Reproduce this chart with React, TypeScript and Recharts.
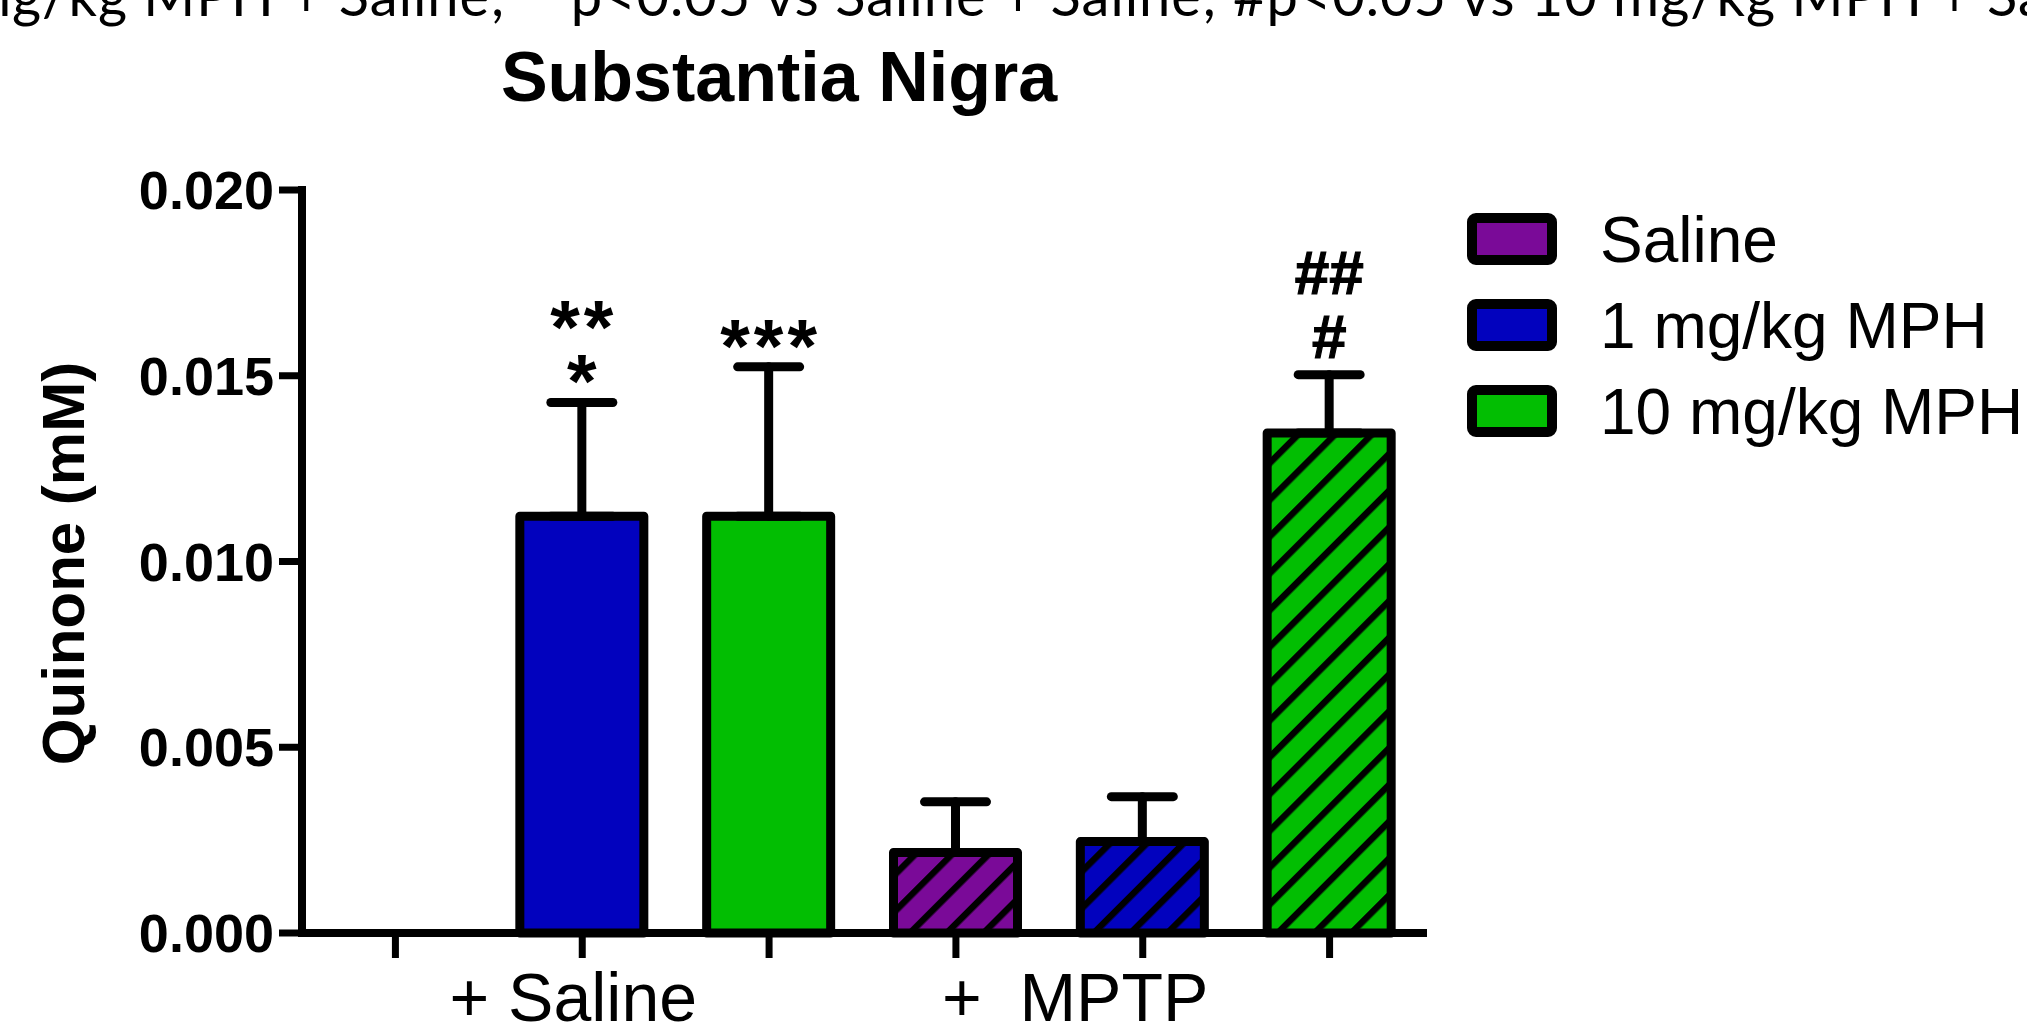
import React from 'react';
import { BarChart, Bar, XAxis, YAxis, ErrorBar, Cell, LabelList } from 'recharts';

// ---------- data ----------
const categories = [
  'Saline + Saline',
  '1 mg/kg MPH + Saline',
  '10 mg/kg MPH + Saline',
  'Saline + MPTP',
  '1 mg/kg MPH + MPTP',
  '10 mg/kg MPH + MPTP',
];
const treatments = ['Saline', '1 mg/kg MPH', '10 mg/kg MPH', 'Saline', '1 mg/kg MPH', '10 mg/kg MPH'];
const pretreatments = ['Saline', 'Saline', 'Saline', 'MPTP', 'MPTP', 'MPTP'];
const means = [0, 0.01122, 0.01122, 0.00217, 0.00246, 0.01346];
const sems: (number | null)[] = [null, 0.00306, 0.00402, 0.00136, 0.00121, 0.00157];
const annotations: string[][] = [[], ['*', '**'], ['***'], [], [], ['#', '##']];
const yTicks = [0, 0.005, 0.01, 0.015, 0.02];
const groupLabels = ['+ Saline', '+  MPTP'];
const groupLabelIndex = [1, 3];
const legendItems = ['Saline', '1 mg/kg MPH', '10 mg/kg MPH'];
const titleText = 'Substantia Nigra';
const yAxisTitle = 'Quinone (mM)';
const noteHidden = '*p<0.05 vs 1 m';
const noteVisible = 'g/kg MPH + Saline; **p<0.05 vs Saline + Saline; #p<0.05 vs 10 mg/kg MPH + Saline';

// ---------- styles ----------
const COLORS: Record<string, string> = {
  Saline: '#7A0A98',
  '1 mg/kg MPH': '#0202BE',
  '10 mg/kg MPH': '#02BE02',
};
const hatchId = (t: string) => 'hatch-' + t.replace(/[^a-z0-9]/gi, '');
const FONT = '"Liberation Sans", Arial, sans-serif';
const NOTE_FONT = "Lato, 'Open Sans', sans-serif";
const groupLabelDx = [-9, -14];
const groupLabelAnchor: ('middle' | 'start')[] = ['middle', 'start'];

const data = categories.map((c, i) => ({
  category: c,
  value: means[i],
  err: sems[i] == null ? null : [0, sems[i] as number],
}));

const fillFor = (i: number) =>
  pretreatments[i] === 'MPTP' ? `url(#${hatchId(treatments[i])})` : COLORS[treatments[i]];

const renderAnnotation = (props: any) => {
  const vb = props.viewBox || props;
  const index = categories.indexOf(props.value);
  if (index < 0) return null;
  const rows = annotations[index];
  if (!rows || rows.length === 0) return null;
  const height = Math.abs(vb.height);
  const top = Math.min(vb.y, vb.y + vb.height);
  const v = means[index];
  const s = sems[index] ?? 0;
  const errTop = top - s * (height / v);
  const cx = vb.x + vb.width / 2;
  return (
    <g>
      {rows.map((t, r) => {
        const isHash = t.includes('#');
        const fs = isHash ? 62 : 76;
        const gap = isHash ? 64 : 54;
        const center = errTop - 39 - r * gap;
        const baseline = center + (isHash ? 0.36 : 0.575) * fs;
        return (
          <text
            key={r}
            x={cx + (isHash ? 0 : 2)}
            y={baseline}
            textAnchor="middle"
            fontSize={fs}
            fontWeight="bold"
            fontFamily={FONT}
            letterSpacing={isHash ? 0 : 4}
            stroke={isHash ? '#000' : 'none'}
            strokeWidth={isHash ? 1.2 : 0}
            fill="#000"
          >
            {t}
          </text>
        );
      })}
    </g>
  );
};

const GroupTick = (props: any) => {
  const { x, y, payload } = props;
  const idx = payload?.index ?? categories.indexOf(payload?.value);
  const k = groupLabelIndex.indexOf(idx);
  if (k < 0) return null;
  return (
    <text
      x={x + groupLabelDx[k]}
      y={y + 61}
      textAnchor={groupLabelAnchor[k]}
      fontSize={68}
      fontFamily={FONT}
      fill="#000"
      style={{ whiteSpace: 'pre' }}
    >
      {groupLabels[k]}
    </text>
  );
};

const YTitle = (props: any) => {
  const vb = props.viewBox || { x: 0, y: 190, width: 302, height: 743 };
  const cx = vb.x + 84;
  const cy = vb.y + vb.height / 2 + 2;
  return (
    <text
      x={cx}
      y={cy}
      transform={`rotate(-90, ${cx}, ${cy})`}
      textAnchor="middle"
      fontSize={60}
      fontWeight="bold"
      fontFamily={FONT}
      fill="#000"
    >
      {yAxisTitle}
    </text>
  );
};

const Overlay = () => (
  <svg
    width={2027}
    height={1024}
    style={{ position: 'absolute', left: 0, top: 0, pointerEvents: 'none' }}
  >
    <text x={12} y={16} textAnchor="end" fontSize={56} letterSpacing={1} fontFamily={NOTE_FONT} fill="#000">
      {noteHidden}
    </text>
    <text x={12} y={16} textAnchor="start" fontSize={56} letterSpacing={1} fontFamily={NOTE_FONT} fill="#000">
      {noteVisible}
    </text>
    <text x={779} y={101} textAnchor="middle" fontSize={70} fontWeight="bold" fontFamily={FONT} fill="#000">
      {titleText}
    </text>
    {legendItems.map((t, i) => {
      const cy = 239 + i * 86;
      return (
        <g key={t}>
          <rect
            x={1472}
            y={cy - 21}
            width={80}
            height={42}
            rx={4}
            fill={COLORS[t]}
            stroke="#000"
            strokeWidth={10}
            strokeLinejoin="round"
          />
          <text x={1600} y={cy + 23} fontSize={64} fontFamily={FONT} fill="#000">
            {t}
          </text>
        </g>
      );
    })}
  </svg>
);

export default function App() {
  return (
    <div style={{ position: 'absolute', left: 0, top: 0, width: 2027, height: 1024, background: '#fff' }}>
      <svg width={0} height={0} style={{ position: 'absolute' }}>
        <defs>
          {Object.keys(COLORS).map((t) => (
            <pattern
              key={t}
              id={hatchId(t)}
              patternUnits="userSpaceOnUse"
              width={26}
              height={26}
              patternTransform="rotate(45)"
            >
              <rect x={0} y={0} width={26} height={26} fill={COLORS[t]} />
              <rect x={0} y={0} width={6.5} height={26} fill="#000" />
            </pattern>
          ))}
        </defs>
      </svg>
      <BarChart
        width={2027}
        height={1024}
        data={data}
        margin={{ top: 190, right: 604, bottom: 0, left: 0 }}
        barSize={124}
      >
        <XAxis
          dataKey="category"
          height={91}
          interval={0}
          tick={<GroupTick />}
          tickSize={25}
          tickLine={{ stroke: '#000', strokeWidth: 7 }}
          axisLine={{ stroke: '#000', strokeWidth: 8, strokeLinecap: 'square' }}
        />
        <YAxis
          width={302}
          domain={[0, 0.02]}
          ticks={yTicks}
          interval={0}
          tickFormatter={(v: number) => v.toFixed(3)}
          tickSize={23}
          tickMargin={5}
          tick={{ fontSize: 54, fontWeight: 'bold', fontFamily: FONT, fill: '#000' }}
          tickLine={{ stroke: '#000', strokeWidth: 7 }}
          axisLine={{ stroke: '#000', strokeWidth: 8, strokeLinecap: 'square' }}
          label={<YTitle />}
        />
        <Bar dataKey="value" isAnimationActive={false} stroke="#000" strokeWidth={9} strokeLinejoin="round">
          {data.map((d, i) => (
            <Cell key={d.category} fill={fillFor(i)} stroke="#000" strokeWidth={9} />
          ))}
          <ErrorBar
            dataKey="err"
            direction="y"
            width={31}
            stroke="#000"
            strokeWidth={9}
            strokeLinecap="round"
            isAnimationActive={false}
          />
          <LabelList dataKey="category" content={renderAnnotation} />
        </Bar>
      </BarChart>
      <Overlay />
    </div>
  );
}
